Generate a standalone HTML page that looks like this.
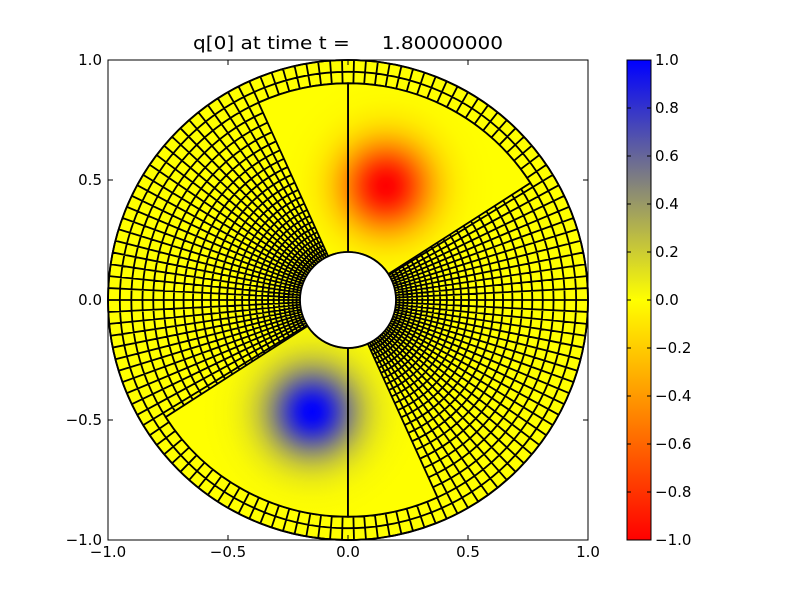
<!DOCTYPE html>
<html><head><meta charset="utf-8"><style>
body{margin:0;background:#fff;}
svg text{font-family:"DejaVu Sans","Liberation Sans",sans-serif;font-size:15px;fill:#000}
</style></head><body>
<svg id="s" width="800" height="600" xmlns="http://www.w3.org/2000/svg">
<defs>
<linearGradient id="cb" x1="0" y1="0" x2="0" y2="1">
<stop offset="0" stop-color="#0000ff"/><stop offset="0.5" stop-color="#ffff00"/><stop offset="1" stop-color="#ff0000"/>
</linearGradient>
<radialGradient id="gr" gradientUnits="userSpaceOnUse" cx="386" cy="186" r="110"></radialGradient>
<radialGradient id="gb" gradientUnits="userSpaceOnUse" cx="312" cy="412" r="110"></radialGradient>
</defs>
<g id="plot"></g>
<rect x="108" y="60" width="480" height="480" fill="none" stroke="#000" stroke-width="1"/>
<g id="ticks" stroke="#000" stroke-width="1"></g>
<text x="193" y="49" textLength="310" lengthAdjust="spacingAndGlyphs" style="font-size:18px" xml:space="preserve">q[0] at time t =     1.80000000</text>
<g text-anchor="middle">
<text x="108" y="557">−1.0</text><text x="228" y="557">−0.5</text><text x="348" y="557">0.0</text><text x="468" y="557">0.5</text><text x="588" y="557">1.0</text>
</g>
<g text-anchor="end">
<text x="102" y="65">1.0</text><text x="102" y="185">0.5</text><text x="102" y="305">0.0</text><text x="102" y="425">−0.5</text><text x="102" y="545">−1.0</text>
</g>
<rect x="627" y="60" width="24" height="480" fill="url(#cb)" stroke="#000" stroke-width="1"/>
<g id="cbt" stroke="#000"></g>
<g id="cbl"></g>
</svg>
<script>
var NS="http://www.w3.org/2000/svg",cx=348,cy=300,S=240;
function el(t,a,p){var e=document.createElementNS(NS,t);for(var k in a)e.setAttribute(k,a[k]);(p||document.getElementById('plot')).appendChild(e);return e;}
function P(r,th){return [cx+S*r*Math.cos(th),cy-S*r*Math.sin(th)];}
function R(s){return 0.2+0.8*(0.4375*s+0.5625*s*s);}
var d='';
var NR=25,NT=126;
for(var i=0;i<=NR;i++){var r=R(i/NR)*S;d+='M'+(cx+r)+' '+cy+'A'+r+' '+r+' 0 1 0 '+(cx-r)+' '+cy+'A'+r+' '+r+' 0 1 0 '+(cx+r)+' '+cy;}
for(var j=0;j<NT;j++){var th=j*2*Math.PI/NT,a=P(0.2,th),b=P(1,th);d+='M'+a[0].toFixed(2)+' '+a[1].toFixed(2)+'L'+b[0].toFixed(2)+' '+b[1].toFixed(2);}
el('circle',{cx:cx,cy:cy,r:240,fill:'#ffff00'});
el('path',{d:d,fill:'none',stroke:'#000','stroke-width':1.8});
function stops(id,col){var g=document.getElementById(id);for(var k=0;k<=14;k++){var dd=k/14*110,t=Math.exp(-Math.pow(dd/44,2));var c=col(t);var s=document.createElementNS(NS,'stop');s.setAttribute('offset',k/14);s.setAttribute('stop-color','rgb('+c.join(',')+')');g.appendChild(s);}}
stops('gr',function(t){return [255,Math.round(255*(1-t)),0];});
stops('gb',function(t){return [Math.round(255*(1-t)),Math.round(255*(1-t)),Math.round(255*t)];});
var RO=R(23/25),deg=Math.PI/180;
function patch(a1,a2,fill){var A=P(0.2,a1*deg),B=P(RO,a1*deg),C=P(RO,a2*deg),D=P(0.2,a2*deg);
var ro=RO*S,ri=0.2*S;
var p='M'+A+'L'+B+'A'+ro+' '+ro+' 0 0 0 '+C+'L'+D+'A'+ri+' '+ri+' 0 0 1 '+A+'Z';
el('path',{d:p,fill:'#ffff00',stroke:'none'});
if(fill)el('path',{d:p,fill:fill,stroke:'none'});
el('path',{d:p,fill:'none',stroke:'#000','stroke-width':1.8});}
patch(32.7,90,'url(#gr)');patch(90,114.4,'url(#gr)');patch(212.7,270,'url(#gb)');patch(270,294.4,'url(#gb)');
el('circle',{cx:cx,cy:cy,r:48,fill:'#fff',stroke:'#000','stroke-width':1.8});
el('circle',{cx:cx,cy:cy,r:240,fill:'none',stroke:'#000','stroke-width':1.8});
var tg=document.getElementById('ticks');
for(var k=0;k<5;k++){var x=108+120*k,y=60+120*k;
el('line',{x1:x,y1:540,x2:x,y2:535},tg);el('line',{x1:x,y1:60,x2:x,y2:65},tg);
el('line',{x1:108,y1:y,x2:113,y2:y},tg);el('line',{x1:588,y1:y,x2:583,y2:y},tg);}
var ct=document.getElementById('cbt'),cl=document.getElementById('cbl');
for(var k=0;k<=10;k++){var y=60+48*k,v=(1-0.2*k);
el('line',{x1:627,y1:y,x2:631,y2:y},ct);el('line',{x1:651,y1:y,x2:647,y2:y},ct);
var t=el('text',{x:655,y:y+5},cl);var s=Math.abs(v)<1e-9?'0.0':v.toFixed(1);t.textContent=s.replace('-','−');}
</script>
</body></html>
